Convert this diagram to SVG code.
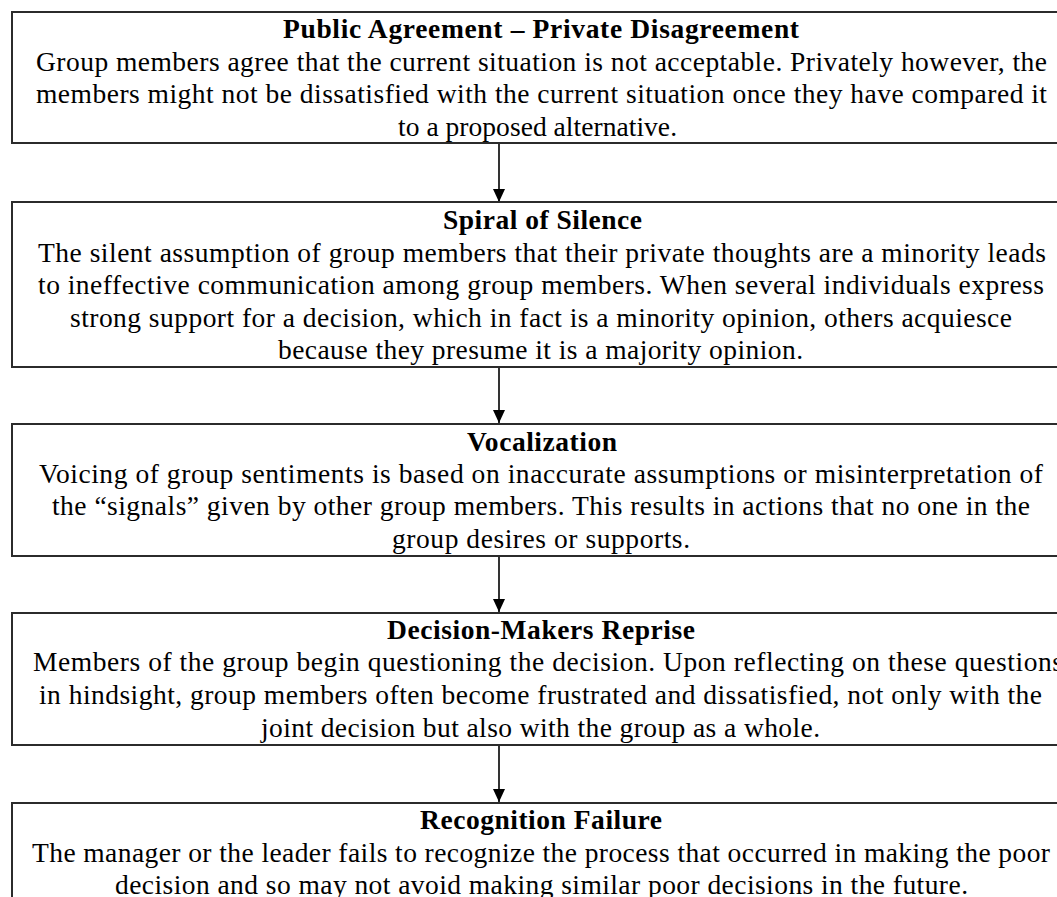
<svg xmlns="http://www.w3.org/2000/svg" width="1057" height="897" viewBox="0 0 1057 897">
  <style>
    .box { fill: #ffffff; stroke: #2b2b2b; stroke-width: 2; }
    .title { font-family: "Liberation Serif", "Times New Roman", serif; font-weight: bold; font-size: 27.5px; fill: #000; }
    .body { font-family: "Liberation Serif", "Times New Roman", serif; font-size: 27.5px; fill: #000; }
    .conn { stroke: #000; stroke-width: 1.6; fill: none; }
  </style>
  <defs>
    <marker id="arrow" markerWidth="13" markerHeight="12" refX="13" refY="6" orient="auto" markerUnits="userSpaceOnUse">
      <path d="M0,0 L13,6 L0,12 Z" fill="#000"/>
    </marker>
  </defs>
  <rect width="1057" height="897" fill="#ffffff"/>

  <!-- downward flow arrows between the stages -->
  <g id="connectors">
    <line class="conn" x1="499" y1="143" x2="499" y2="202" marker-end="url(#arrow)"/>
    <line class="conn" x1="499" y1="367" x2="499" y2="423" marker-end="url(#arrow)"/>
    <line class="conn" x1="499" y1="557" x2="499" y2="612" marker-end="url(#arrow)"/>
    <line class="conn" x1="499" y1="746" x2="499" y2="802" marker-end="url(#arrow)"/>
  </g>

  <g id="public-agreement">
    <rect class="box" x="12" y="12" width="1058" height="131"/>
    <text class="title" x="283" y="38" textLength="516" lengthAdjust="spacing">Public Agreement – Private Disagreement</text>
    <text class="body" x="36" y="71" textLength="1011" lengthAdjust="spacing">Group members agree that the current situation is not acceptable. Privately however, the</text>
    <text class="body" x="36" y="103" textLength="1011" lengthAdjust="spacing">members might not be dissatisfied with the current situation once they have compared it</text>
    <text class="body" x="398" y="136" textLength="279" lengthAdjust="spacing">to a proposed alternative.</text>
  </g>

  <g id="spiral-of-silence">
    <rect class="box" x="12" y="202" width="1058" height="165"/>
    <text class="title" x="443" y="229" textLength="199" lengthAdjust="spacing">Spiral of Silence</text>
    <text class="body" x="38" y="262" textLength="1008" lengthAdjust="spacing">The silent assumption of group members that their private thoughts are a minority leads</text>
    <text class="body" x="38" y="294" textLength="1006" lengthAdjust="spacing">to ineffective communication among group members. When several individuals express</text>
    <text class="body" x="70" y="327" textLength="942" lengthAdjust="spacing">strong support for a decision, which in fact is a minority opinion, others acquiesce</text>
    <text class="body" x="278" y="359" textLength="525" lengthAdjust="spacing">because they presume it is a majority opinion.</text>
  </g>

  <g id="vocalization">
    <rect class="box" x="12" y="424" width="1058" height="132"/>
    <text class="title" x="467" y="451" textLength="150" lengthAdjust="spacing">Vocalization</text>
    <text class="body" x="39" y="483" textLength="1004" lengthAdjust="spacing">Voicing of group sentiments is based on inaccurate assumptions or misinterpretation of</text>
    <text class="body" x="52" y="515" textLength="978" lengthAdjust="spacing">the “signals” given by other group members. This results in actions that no one in the</text>
    <text class="body" x="392" y="548" textLength="298" lengthAdjust="spacing">group desires or supports.</text>
  </g>

  <g id="decision-makers-reprise">
    <rect class="box" x="12" y="613" width="1058" height="132"/>
    <text class="title" x="387" y="639" textLength="308" lengthAdjust="spacing">Decision-Makers Reprise</text>
    <text class="body" x="33" y="671" textLength="1030" lengthAdjust="spacing">Members of the group begin questioning the decision. Upon reflecting on these questions</text>
    <text class="body" x="39" y="704" textLength="1003" lengthAdjust="spacing">in hindsight, group members often become frustrated and dissatisfied, not only with the</text>
    <text class="body" x="261" y="737" textLength="559" lengthAdjust="spacing">joint decision but also with the group as a whole.</text>
  </g>

  <g id="recognition-failure">
    <rect class="box" x="12" y="803" width="1058" height="120"/>
    <text class="title" x="420" y="829" textLength="242" lengthAdjust="spacing">Recognition Failure</text>
    <text class="body" x="32" y="862" textLength="1018" lengthAdjust="spacing">The manager or the leader fails to recognize the process that occurred in making the poor</text>
    <text class="body" x="115" y="894" textLength="853" lengthAdjust="spacing">decision and so may not avoid making similar poor decisions in the future.</text>
  </g>
</svg>
